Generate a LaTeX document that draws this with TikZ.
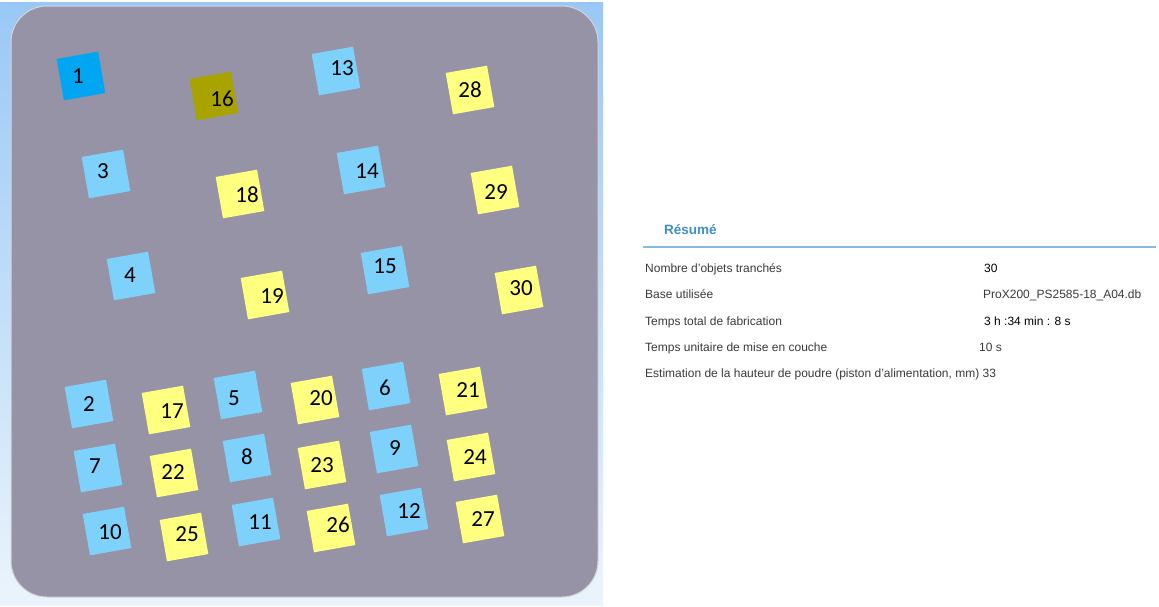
\documentclass[tikz,border=0pt]{standalone}
\usepackage{fontspec}
\setmainfont{Liberation Sans}
\newfontfamily\numfont{Carlito}
\definecolor{bgray}{HTML}{9593A5}
\definecolor{sqblue}{HTML}{7DD1FA}
\definecolor{sqdblue}{HTML}{00A6F2}
\definecolor{sqyel}{HTML}{FFFF80}
\definecolor{sqolive}{HTML}{A9A300}
\definecolor{frametop}{HTML}{99C8F6}
\definecolor{framebot}{HTML}{EBF4FC}
\definecolor{restitle}{HTML}{3D8FC4}
\definecolor{resline}{HTML}{8DB9D9}
\definecolor{restext}{HTML}{3A3A3A}
\begin{document}
\begin{tikzpicture}[x=1pt,y=-1pt,
  part/.style={minimum size=42pt,inner sep=0pt,rotate=10,draw=none},
  pb/.style={part,fill=sqblue},
  pdb/.style={part,fill=sqdblue},
  py/.style={part,fill=sqyel},
  po/.style={part,fill=sqolive},
  num/.style={font=\numfont\fontsize{23}{23}\selectfont,text=black,inner sep=0pt},
  lab/.style={anchor=base west,font=\fontsize{12}{12}\selectfont,text=restext,inner sep=0pt},
  val/.style={anchor=base west,font=\fontsize{12}{12}\selectfont,text=black,inner sep=0pt}]
\useasboundingbox (0,0) rectangle (1159,606);
\fill[white] (0,0) rectangle (1159,606);
% frame
\shade[top color=frametop,bottom color=framebot] (0,2) rectangle (603,605);
\fill[bgray,draw=white!60!bgray,line width=1pt,rounded corners=36pt] (11,6) rectangle (598,597);
% parts
\foreach \n/\s/\x/\y/\tx/\ty in {
 1/pdb/81/76/78/76, 16/po/214/96/222/99, 13/pb/336/71/342/68, 28/py/470/90/470/90,
 3/pb/106/174/103/171, 18/py/240/194/247/195, 14/pb/361/170/367/171, 29/py/495/190/496/192,
 4/pb/131/276/130/275, 19/py/265/295/272/296, 15/pb/385/270/385/266, 30/py/519/290/521/288,
 2/pb/89/404/89/404, 17/py/166/410/172/411, 5/pb/238/395/234/398, 20/py/315/400/321/398,
 6/pb/386/386/385/388, 21/py/463/391/468/390,
 7/pb/98/468/95/466, 22/py/174/473/173/472, 8/pb/247/458/247/457, 23/py/322/465/322/465,
 9/pb/394/449/395/448, 24/py/471/457/475/457,
 10/pb/107/531/110/532, 25/py/184/537/187/534, 11/pb/256/522/260/522, 26/py/331/528/338/525,
 12/pb/404/512/409/511, 27/py/480/519/483/519}{
  \node[\s] (p\n) at (\x,\y) {};
  \node[num] (t\n) at (\tx,\ty) {\n};
}
% summary
\node[anchor=base west,font=\bfseries\fontsize{13.5}{13.5}\selectfont,text=restitle,inner sep=0pt] (title) at (664,234) {Résumé};
\coordinate (l1) at (643,247);
\coordinate (l2) at (1156,247);
\draw[resline,line width=1.6pt] (l1) -- (l2);
\node[lab] (a1) at (645,272) {Nombre d'objets tranchés};
\node[lab] (a2) at (645,298) {Base utilisée};
\node[lab] (a3) at (645,325) {Temps total de fabrication};
\node[lab] (a4) at (645,351) {Temps unitaire de mise en couche};
\node[lab] (a5) at (645,377) {Estimation de la hauteur de poudre (piston d'alimentation, mm) 33};
\node[val] (b1) at (984,272) {30};
\node[val,text=restext] (b2) at (983,298) {ProX200\_PS2585-18\_A04.db};
\node[val] (b3) at (984,325) {3 h :34 min : 8 s};
\node[val,text=restext] (b4) at (979,351) {10 s};
\end{tikzpicture}
\end{document}
